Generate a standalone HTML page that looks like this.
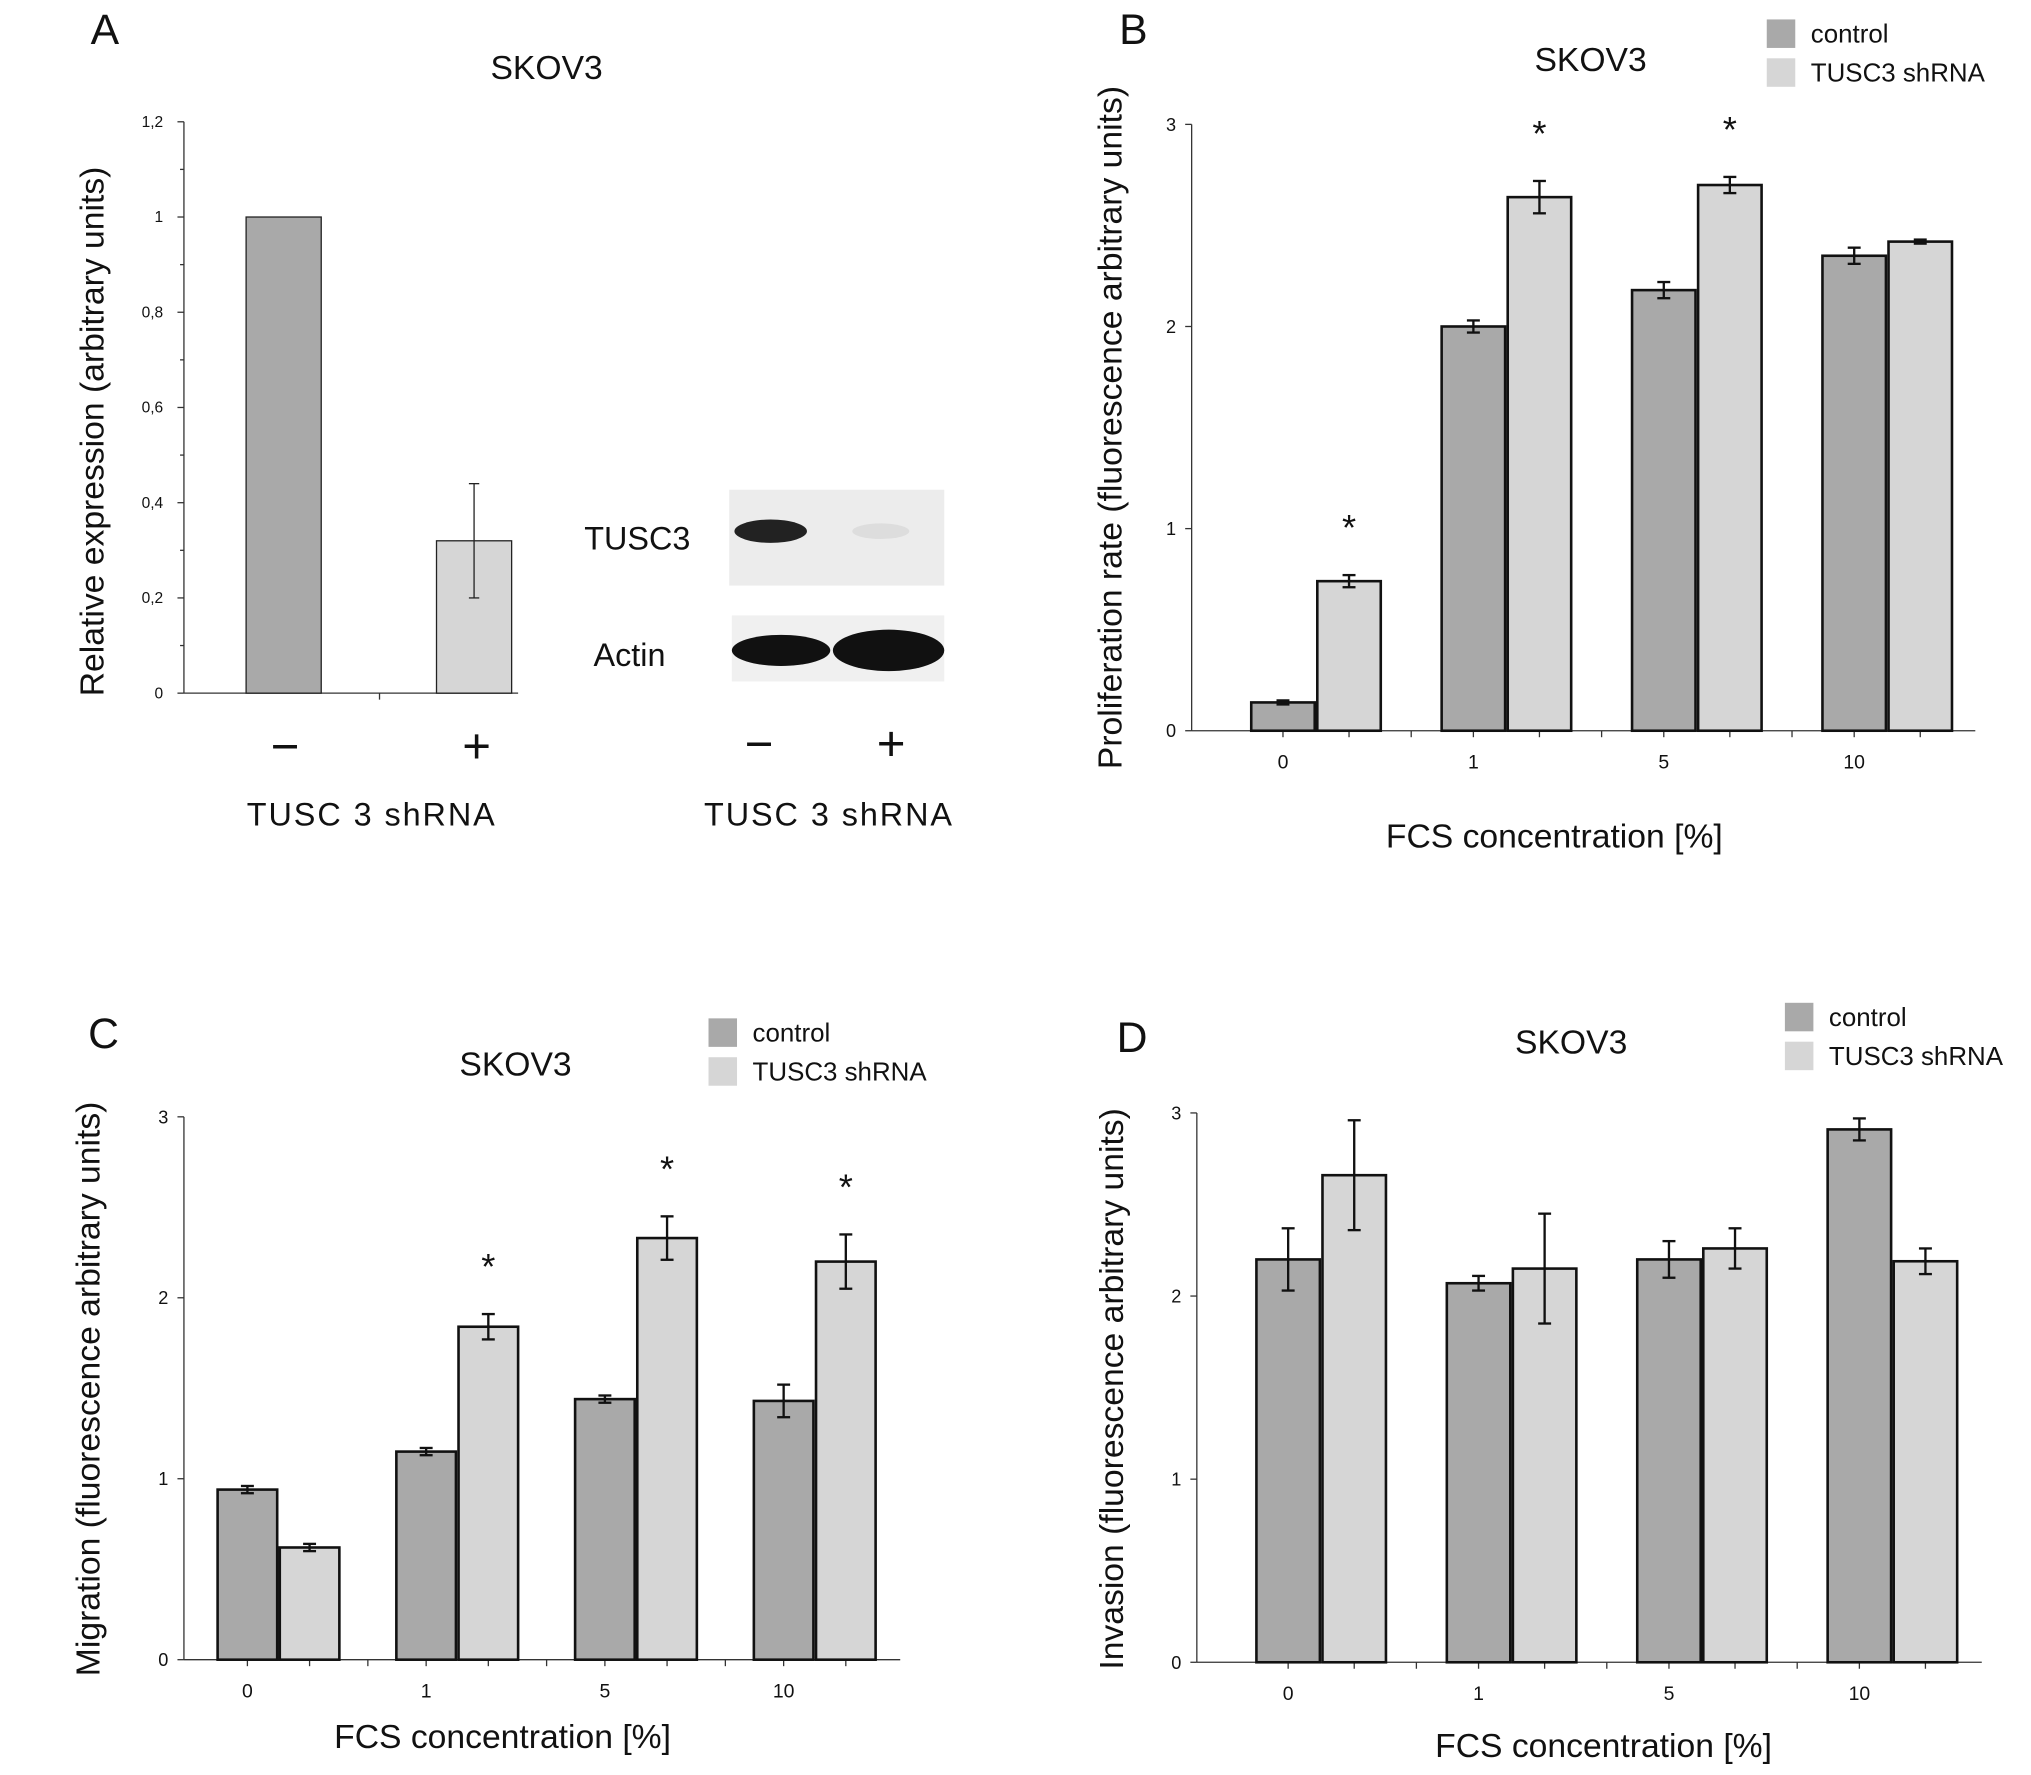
<!DOCTYPE html>
<html><head><meta charset="utf-8"><style>
html,body{margin:0;padding:0;background:#fff}
svg{display:block}
text{font-family:"Liberation Sans",sans-serif;fill:#111}
</style></head><body>
<svg id="fig" width="2031" height="1775" viewBox="0 0 1568 1370" preserveAspectRatio="none">
<g id="static">
<text x="81" y="34" font-size="33" text-anchor="middle">A</text>
<text x="422" y="61" font-size="26" text-anchor="middle">SKOV3</text>
<text x="875" y="34" font-size="33" text-anchor="middle">B</text>
<text x="1228" y="55" font-size="26" text-anchor="middle">SKOV3</text>
<text x="80" y="809" font-size="33" text-anchor="middle">C</text>
<text x="398" y="830" font-size="26" text-anchor="middle">SKOV3</text>
<text x="874" y="812" font-size="33" text-anchor="middle">D</text>
<text x="1213" y="813" font-size="26" text-anchor="middle">SKOV3</text>
<!-- blot -->
<rect x="563" y="378" width="166" height="74" fill="#ececec"/>
<ellipse cx="595" cy="410" rx="28" ry="9" fill="#222"/>
<ellipse cx="680" cy="410" rx="22" ry="6" fill="#ddd"/>
<rect x="565" y="475" width="164" height="51" fill="#f0f0f0"/>
<ellipse cx="603" cy="502" rx="38" ry="12" fill="#111"/>
<ellipse cx="686" cy="502" rx="43" ry="16" fill="#111"/>
<text x="492" y="424" font-size="25" text-anchor="middle">TUSC3</text>
<text x="486" y="514" font-size="25" text-anchor="middle">Actin</text>
<text x="220" y="589" font-size="38" text-anchor="middle">−</text>
<text x="368" y="589" font-size="38" text-anchor="middle">+</text>
<text x="287" y="637" font-size="25" letter-spacing="1.5" text-anchor="middle">TUSC 3  shRNA</text>
<text x="586" y="587" font-size="38" text-anchor="middle">−</text>
<text x="688" y="587" font-size="38" text-anchor="middle">+</text>
<text x="640" y="637" font-size="25" letter-spacing="1.5" text-anchor="middle">TUSC 3  shRNA</text>
<text transform="translate(80,333) rotate(-90)" font-size="26" text-anchor="middle">Relative expression (arbitrary units)</text>
<text transform="translate(866,330) rotate(-90)" font-size="26" text-anchor="middle">Proliferation rate (fluorescence arbitrary units)</text>
<text transform="translate(77,1072) rotate(-90)" font-size="26" text-anchor="middle">Migration (fluorescence arbitrary units)</text>
<text transform="translate(867,1072) rotate(-90)" font-size="26" text-anchor="middle">Invasion (fluorescence arbitrary units)</text>
<text x="1200" y="654" font-size="26" text-anchor="middle">FCS concentration [%]</text>
<text x="388" y="1349" font-size="26" text-anchor="middle">FCS concentration [%]</text>
<text x="1238" y="1356" font-size="26" text-anchor="middle">FCS concentration [%]</text>
</g>
</svg>
<script>
// Panel A
const aCats = ['-', '+'];
const aValues = [1, 0.32];
const aErrLow = [1, 0.2];
const aErrHigh = [1, 0.44];
const aTicks = ['0','0,2','0,4','0,6','0,8','1','1,2'];
// Shared FCS categories
const fcsCats = ['0', '1', '5', '10'];
// Panel B
const bControl = [0.14, 2.0, 2.18, 2.35];
const bControlErr = [0.01, 0.03, 0.04, 0.04];
const bShrna = [0.74, 2.64, 2.7, 2.42];
const bShrnaErr = [0.03, 0.08, 0.04, 0.01];
const bStars = [true, true, true, false];
const bTicks = ['0','1','2','3'];
// Panel C
const cControl = [0.94, 1.15, 1.44, 1.43];
const cControlErr = [0.02, 0.02, 0.02, 0.09];
const cShrna = [0.62, 1.84, 2.33, 2.2];
const cShrnaErr = [0.02, 0.07, 0.12, 0.15];
const cStars = [false, true, true, true];
const cTicks = ['0','1','2','3'];
// Panel D
const dControl = [2.2, 2.07, 2.2, 2.91];
const dControlErr = [0.17, 0.04, 0.1, 0.06];
const dShrna = [2.66, 2.15, 2.26, 2.19];
const dShrnaErr = [0.3, 0.3, 0.11, 0.07];
const dStars = [false, false, false, false];
const dTicks = ['0','1','2','3'];

const NS = 'http://www.w3.org/2000/svg';
const svg = document.getElementById('fig');
function mk(tag, attrs, parent) {
  const e = document.createElementNS(NS, tag);
  for (const k in attrs) e.setAttribute(k, attrs[k]);
  (parent || svg).appendChild(e);
  return e;
}
const CTRL = '#a9a9a9', SH = '#d6d6d6';

// ---- Panel A ----
(function(){
  const x0 = 142, y0 = 535, yTop = 94, vmax = 1.2;
  const y = v => y0 - (v / vmax) * (y0 - yTop);
  let e = mk('line', {x1:x0, y1:y0, x2:x0, y2:yTop, stroke:'#333', 'stroke-width':1});
  
  
  e = mk('line', {x1:x0, y1:y0, x2:400, y2:y0, stroke:'#333', 'stroke-width':1});
  
  
  mk('line', {x1:293, y1:y0, x2:293, y2:y0+5, stroke:'#333'});
  aTicks.forEach((t, i) => {
    const v = i * 0.2, yy = y(v);
    mk('line', {x1:x0-5, y1:yy, x2:x0, y2:yy, stroke:'#333'});
    if (i < aTicks.length - 1) {
      const ym = y(v + 0.1);
      mk('line', {x1:x0-3, y1:ym, x2:x0, y2:ym, stroke:'#333'});
    }
    const tx = mk('text', {x:x0-16, y:yy+4, 'font-size':12, 'text-anchor':'end'});
    tx.textContent = t;
    
    
  });
  const centers = [219, 366], w = 58;
  aValues.forEach((v, i) => {
    const r = mk('rect', {x:centers[i]-w/2, y:y(v), width:w, height:y0-y(v), fill:i?SH:CTRL, stroke:'#222', 'stroke-width':1});
    
    
    if (aErrHigh[i] !== aErrLow[i]) {
      const g = mk('g', {stroke:'#222', 'stroke-width':1});
      
      
      mk('line', {x1:centers[i], y1:y(aErrLow[i]), x2:centers[i], y2:y(aErrHigh[i])}, g);
      mk('line', {x1:centers[i]-4, y1:y(aErrLow[i]), x2:centers[i]+4, y2:y(aErrLow[i])}, g);
      mk('line', {x1:centers[i]-4, y1:y(aErrHigh[i]), x2:centers[i]+4, y2:y(aErrHigh[i])}, g);
    }
  });
})();

// ---- grouped panels ----
function grouped(p) {
  const y = v => p.y0 - (v / 3) * (p.y0 - p.yTop);
  let e = mk('line', {x1:p.x0, y1:p.y0, x2:p.x0, y2:p.yTop, stroke:'#333', 'stroke-width':1});
  
  
  e = mk('line', {x1:p.x0, y1:p.y0, x2:p.xEnd, y2:p.y0, stroke:'#333', 'stroke-width':1});
  
  
  p.ticks.forEach((t, i) => {
    const yy = y(i);
    mk('line', {x1:p.x0-5, y1:yy, x2:p.x0, y2:yy, stroke:'#333'});
    const tx = mk('text', {x:p.x0-12, y:yy+5, 'font-size':14, 'text-anchor':'end'});
    tx.textContent = t;
    
    
  });
  fcsCats.forEach((c, i) => {
    const cx = p.first + i * p.step;
    const xc = cx - p.w/2 - 1, xs = cx + p.w/2 + 1;
    mk('line', {x1:xc, y1:p.y0, x2:xc, y2:p.y0+5, stroke:'#333'});
    mk('line', {x1:xs, y1:p.y0, x2:xs, y2:p.y0+5, stroke:'#333'});
    if (i > 0) mk('line', {x1:cx - p.step/2, y1:p.y0, x2:cx - p.step/2, y2:p.y0+5, stroke:'#333'});
    const tx = mk('text', {x:xc, y:p.y0+29, 'font-size':15, 'text-anchor':'middle'});
    tx.textContent = c;
    
    
    [[p.ctrl, p.ctrlErr, CTRL, cx - p.w - 1, 'control'], [p.sh, p.shErr, SH, cx + 1, 'shrna']].forEach(s => {
      const v = s[0][i], er = s[1][i], bx = s[3];
      const r = mk('rect', {x:bx, y:y(v), width:p.w, height:p.y0-y(v), fill:s[2], stroke:'#111', 'stroke-width':2});
      
      
      const mx = bx + p.w/2;
      const g = mk('g', {stroke:'#111', 'stroke-width':1.8});
      
      
      mk('line', {x1:mx, y1:y(v-er), x2:mx, y2:y(v+er)}, g);
      mk('line', {x1:mx-5, y1:y(v-er), x2:mx+5, y2:y(v-er)}, g);
      mk('line', {x1:mx-5, y1:y(v+er), x2:mx+5, y2:y(v+er)}, g);
    });
    if (p.stars[i]) {
      const st = mk('text', {x:cx + 1 + p.w/2, y:y(p.sh[i] + p.shErr[i]) - 27, 'font-size':28, 'text-anchor':'middle'});
      st.textContent = '*';
      
      
    }
  });
  [[CTRL, 'control'], [SH, 'TUSC3 shRNA']].forEach((l, k) => {
    const r = mk('rect', {x:p.lx, y:p.ly + k*30, width:22, height:22, fill:l[0]});
    
    
    const t = mk('text', {x:p.lx + 34, y:p.ly + k*30 + 18, 'font-size':20});
    t.textContent = l[1];
    
    
  });
}
grouped({id:'b', x0:920, y0:564, yTop:96, xEnd:1525, first:1015+1, step:147, w:49,
  ctrl:bControl, ctrlErr:bControlErr, sh:bShrna, shErr:bShrnaErr, stars:bStars, ticks:bTicks, lx:1364, ly:15});
grouped({id:'c', x0:142, y0:1281, yTop:862, xEnd:695, first:215, step:138, w:46,
  ctrl:cControl, ctrlErr:cControlErr, sh:cShrna, shErr:cShrnaErr, stars:cStars, ticks:cTicks, lx:547, ly:786});
grouped({id:'d', x0:924, y0:1283, yTop:859, xEnd:1530, first:1019+1, step:147, w:49,
  ctrl:dControl, ctrlErr:dControlErr, sh:dShrna, shErr:dShrnaErr, stars:dStars, ticks:dTicks, lx:1378, ly:774});
</script>
</body></html>
